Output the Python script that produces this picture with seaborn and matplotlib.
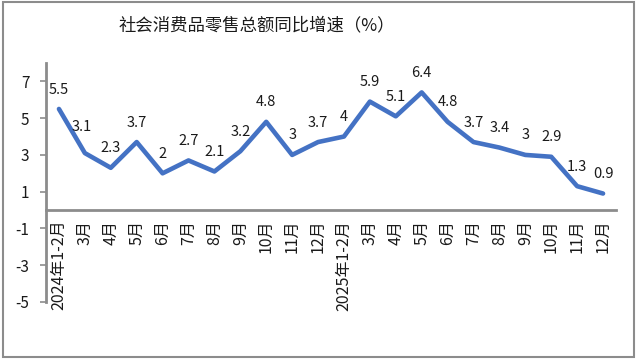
import matplotlib
matplotlib.use("Agg")
import matplotlib.pyplot as plt
import numpy as np
import pandas as pd
import seaborn as sns
from matplotlib.patches import Rectangle
from matplotlib.ticker import FixedLocator, NullFormatter

# Data
MONTHS = ["2024年1-2月", "3月", "4月", "5月", "6月", "7月", "8月", "9月", "10月", "11月", "12月",
          "2025年1-2月", "3月", "4月", "5月", "6月", "7月", "8月", "9月", "10月", "11月", "12月"]
GROWTH = [5.5, 3.1, 2.3, 3.7, 2, 2.7, 2.1, 3.2, 4.8, 3, 3.7,
          4, 5.9, 5.1, 6.4, 4.8, 3.7, 3.4, 3, 2.9, 1.3, 0.9]
Y_TICKS = [-5, -3, -1, 1, 3, 5, 7]
TITLE = "社会消费品零售总额同比增速（%）"

sns.set_theme(style="white")
plt.rcParams["font.family"] = ["Noto Sans CJK SC", "DejaVu Sans"]
plt.rcParams["axes.unicode_minus"] = False

GRAY = "#8c8c8c"
BLUE = "#4472C4"
TXT = "#1a1a1a"

df = pd.DataFrame({"pos": np.arange(len(MONTHS)), "growth": GROWTH})

fig = plt.figure(figsize=(6.37, 3.59), dpi=100)
ax = fig.add_axes([46 / 637, 57 / 359, 570 / 637, 239 / 359])

sns.lineplot(data=df, x="pos", y="growth", color=BLUE, linewidth=3.3, ax=ax)

for i, v in enumerate(GROWTH):
    dx, dy = (-2, 19) if i == 1 else (0, 14)
    ax.annotate(f"{v:g}", (i, v), xytext=(dx, dy), textcoords="offset points",
                ha="center", va="center", fontsize=10.5, color=TXT)

# spines first: moving a spine resets the tick labels
for side in ["top", "right"]:
    ax.spines[side].set_visible(False)
ax.spines["bottom"].set_position(("data", 0))
for side in ["left", "bottom"]:
    ax.spines[side].set_color(GRAY)
    ax.spines[side].set_linewidth(2)

ax.set_xlim(-0.5, len(MONTHS) - 0.5)
ax.set_ylim(-5, 8)
ax.set_yticks(Y_TICKS)
ax.set_xticks(range(len(MONTHS)))
ax.set_xticklabels(MONTHS, rotation=90, fontsize=11.5, color=TXT, va="top", ha="center")
ax.xaxis.set_minor_locator(FixedLocator(np.arange(-0.5, len(MONTHS), 1.0)))
ax.xaxis.set_minor_formatter(NullFormatter())
ax.tick_params(axis="x", which="major", length=0, pad=7)
ax.tick_params(axis="x", which="minor", length=4, width=1.2, color=GRAY, direction="out")
ax.tick_params(axis="y", length=4, width=1.2, color=GRAY, direction="out", pad=8,
               labelsize=11, labelcolor=TXT, left=True)
ax.set_xlabel("")
ax.set_ylabel("")

fig.text(257 / 637, 1 - 25 / 359, TITLE, ha="center", va="center", fontsize=12.5, color=TXT)
fig.patches.append(Rectangle((0.004, 0.006), 0.992, 0.988, transform=fig.transFigure,
                             fill=False, edgecolor=GRAY, linewidth=1.5))

fig.savefig("out.png", dpi=100)
